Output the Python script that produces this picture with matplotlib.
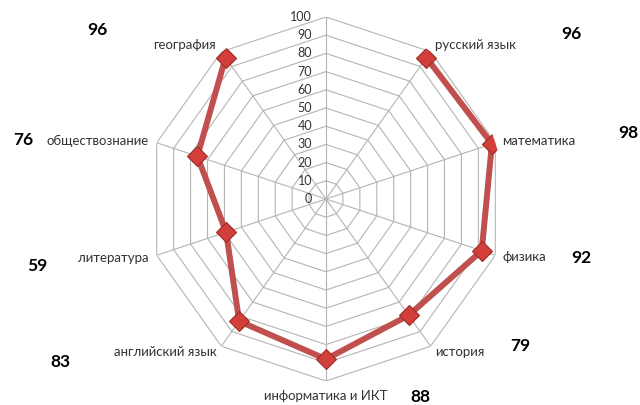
import numpy as np
import matplotlib
matplotlib.use("Agg")
import matplotlib.pyplot as plt

# top spoke has no name and no value, like in the excel sheet
predmety = ["", "русский язык", "математика", "физика", "история",
	"информатика и ИКТ", "английский язык", "литература",
	"обществознание", "география"]
bally = [np.nan, 96, 98, 92, 79, 88, 83, 59, 76, 96]
shkala = [0, 10, 20, 30, 40, 50, 60, 70, 80, 90, 100]

# where the labels sit relative to the outer vertex (points) and how they are aligned
sdvig = [(0, 0), (3, 5), (5, 1), (5, -1), (3, -4), (0, -11), (-3, -4), (-6, -2), (-6, 1), (-4, 5)]
vyravn = ["center", "left", "left", "left", "left", "center", "right", "right", "right", "right"]
# the big bold numbers are free text boxes in the original, pixel centres
mesta_chisel = [None, (571, 34), (628, 133), (581, 258), (520, 346), (420, 397),
	(60, 362), (37, 266), (23, 140), (97, 30)]

plt.rcParams['font.family'] = ['Lato', 'DejaVu Sans']

seryi = "#b4b4b4"
krasnyi = "#c0504d"

fig = plt.figure(figsize=(6.4, 4.05), dpi=100)
W, H = 640, 405
cx, cy = 326, 199
rx, ry = 178, 182
ax = fig.add_axes([(cx - rx) / W, (H - cy - ry) / H, 2 * rx / W, 2 * ry / H], projection="polar")
ax.set_aspect("auto")
ax.set_theta_zero_location("N")
ax.set_theta_direction(-1)

n = len(predmety)
ugly = np.linspace(0, 2 * np.pi, n, endpoint=False)
ugly_zamk = np.append(ugly, ugly[0])

ax.set_ylim(0, 100)
ax.set_yticks(shkala)
ax.set_yticklabels([])
ax.yaxis.grid(False)
ax.set_xticks(ugly)
ax.set_xticklabels([])
ax.xaxis.grid(True, color=seryi, lw=0.8)
ax.spines["polar"].set_visible(False)
ax.patch.set_visible(False)

# polygonal grid instead of circles
for r in shkala[1:]:
	ax.plot(ugly_zamk, [r] * (n + 1), color=seryi, lw=0.8, zorder=1)

for r in shkala:
	ax.annotate(str(r), xy=(0, r), xytext=(-10, 0), textcoords="offset points",
		ha="right", va="center", fontsize=9, color="#333333")

ax.plot(ugly, bally, color=krasnyi, lw=4.3, zorder=3, solid_capstyle="round")
ax.plot(ugly, bally, ls="none", marker="D", ms=10, mfc="#d23f3a", mec="#9e2b27",
	mew=0.8, zorder=4)

for i in range(n):
	if predmety[i] == "":
		continue
	ax.annotate(predmety[i], xy=(ugly[i], 100), xytext=sdvig[i], textcoords="offset points",
		ha=vyravn[i], va="center", fontsize=9.5, color="#333333", annotation_clip=False)

for i in range(n):
	if mesta_chisel[i] is None:
		continue
	x, y = mesta_chisel[i]
	fig.text(x / W, 1 - y / H, f"{bally[i]:.0f}", ha="center", va="center",
		fontsize=12.5, fontweight="bold", color="black")

plt.savefig("out.png", dpi=100)
